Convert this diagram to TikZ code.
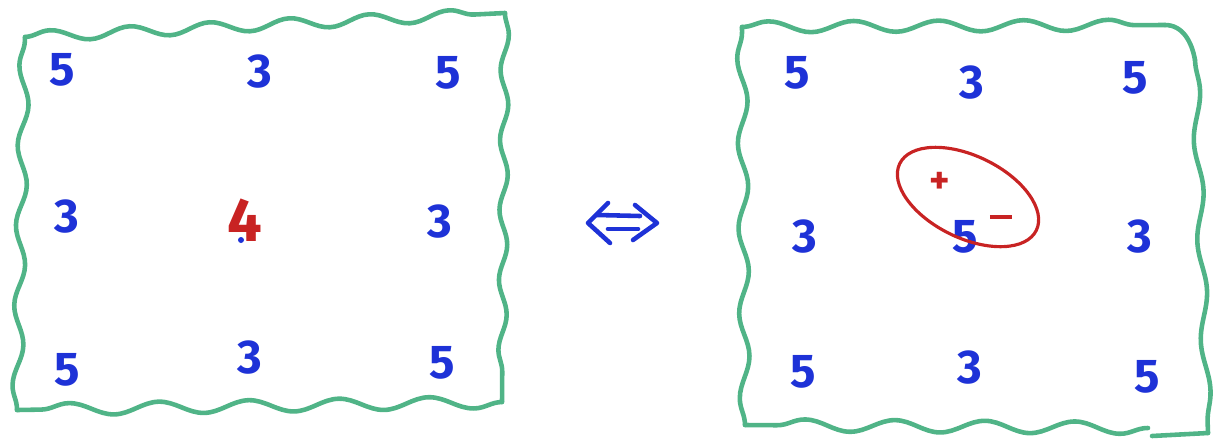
\documentclass[tikz,border=0pt]{standalone}
\usepackage{fontspec}
\setmainfont{Fira Sans}
\usetikzlibrary{decorations.pathmorphing}
\definecolor{pen}{RGB}{80,180,135}
\definecolor{ink}{RGB}{30,50,215}
\definecolor{redink}{RGB}{200,35,35}
\begin{document}
\begin{tikzpicture}[x=0.02cm,y=-0.02cm,
  border/.style 2 args={draw=pen,line width=2.6pt,line cap=round,line join=round,
    decorate,decoration={snake,amplitude=#1,segment length=#2}},
  num/.style={text=ink,font=\fontsize{27}{30}\selectfont\bfseries},
  rnum/.style={text=redink,font=\fontsize{35}{36}\selectfont\bfseries},
  sign/.style={text=redink,font=\fontsize{22}{24}\selectfont\bfseries},
  arrowstroke/.style={draw=ink,line width=2.6pt,line cap=round,line join=round}]
\useasboundingbox (0,0) rectangle (1227,443);
% left box corners
\coordinate (la) at (25,37);
\coordinate (lb) at (505,13);
\coordinate (lc) at (502,402);
\coordinate (ld) at (17,410);
\draw[border={0.11cm}{1.6cm}] (la) -- (lb);
\draw[border={0.08cm}{1.4cm}] (lb) -- (lc);
\draw[border={0.12cm}{1.8cm}] (lc) -- (ld);
\draw[border={0.1cm}{1.6cm}] (ld) -- (la);
% right box corners
\coordinate (ra) at (742,27);
\coordinate (rb) at (1165,25);
\coordinate (rb2) at (1195,60);
\coordinate (rc) at (1208,433);
\coordinate (rc2) at (1152,436);
\coordinate (rd2) at (1148,428);
\coordinate (rd) at (745,425);
\draw[border={0.11cm}{1.7cm}] (ra) -- (rb);
\draw[draw=pen,line width=2.6pt,line cap=round] (rb) to[out=0,in=100] (rb2);
\draw[border={0.08cm}{2.0cm}] (rb2) -- (rc);
\draw[draw=pen,line width=2.6pt,line cap=round] (rc) -- (rc2);
\draw[border={0.12cm}{1.8cm}] (rd2) -- (rd);
\draw[border={0.1cm}{1.7cm}] (rd) -- (ra);
% left numbers
\node[num] (l11) at (62,70) {5};
\node[num] (l12) at (260,72) {3};
\node[num] (l13) at (448,73) {5};
\node[num] (l21) at (67,217) {3};
\node[rnum] (l22) at (245,220) {4};
\fill[ink] (241,240) circle (3);
\node[num] (l23) at (440,222) {3};
\node[num] (l31) at (67,370) {5};
\node[num] (l32) at (250,358) {3};
\node[num] (l33) at (442,363) {5};
% arrow
\coordinate (al1) at (608,203);
\coordinate (al2) at (588,223);
\coordinate (al3) at (610,243);
\coordinate (ar1) at (635,205);
\coordinate (ar2) at (657,223);
\coordinate (ar3) at (633,240);
\coordinate (ab1) at (597,215);
\coordinate (ab2) at (640,216);
\coordinate (ab3) at (608,229);
\coordinate (ab4) at (638,229);
\draw[arrowstroke] (al1) -- (al2) -- (al3);
\draw[arrowstroke] (ar1) -- (ar2) -- (ar3);
\draw[arrowstroke] (ab1) -- (ab2);
\draw[arrowstroke] (ab3) -- (ab4);
% right numbers
\node[num] (r11) at (797,73) {5};
\node[num] (r12) at (972,83) {3};
\node[num] (r13) at (1135,78) {5};
\node[num] (r21) at (805,237) {3};
\node[num] (r22) at (965,237) {5};
\node[num] (r23) at (1140,237) {3};
\node[num] (r31) at (803,372) {5};
\node[num] (r32) at (970,368) {3};
\node[num] (r33) at (1147,377) {5};
% red ellipse and signs
\draw[redink,line width=1.8pt,rotate around={-26:(968,197)}] (968,197) ellipse [x radius=76,y radius=41];
\node[sign] (plus) at (940,183) {+};
\node[sign] (minus) at (1001,217) {\rule{0.45cm}{2.4pt}};
\end{tikzpicture}
\end{document}
